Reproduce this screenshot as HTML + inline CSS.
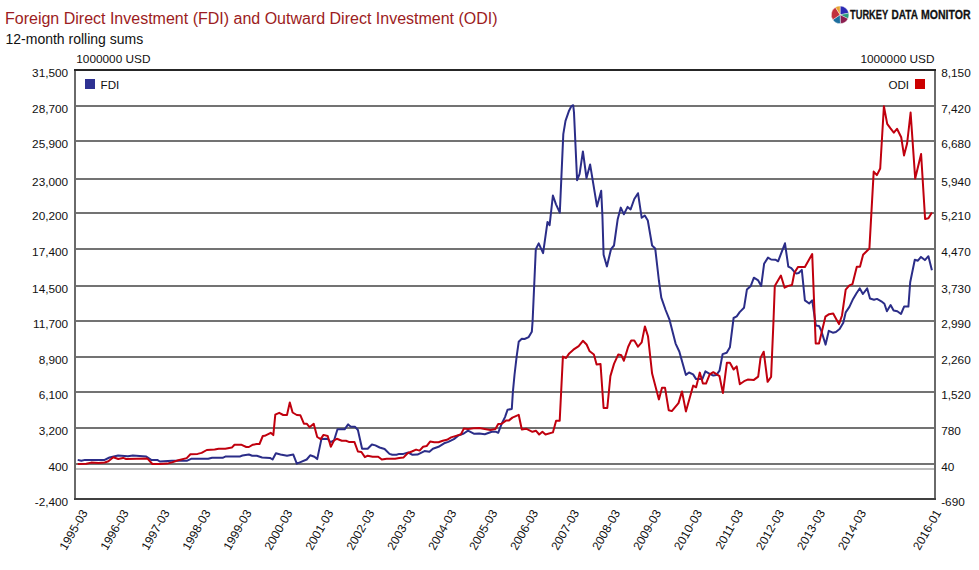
<!DOCTYPE html>
<html><head><meta charset="utf-8"><title>FDI and ODI</title>
<style>html,body{margin:0;padding:0;background:#fff;width:979px;height:570px;overflow:hidden;position:relative}</style>
</head><body>
<svg width="979" height="570" viewBox="0 0 979 570" style="position:absolute;left:0;top:0">
<line x1="75" y1="106.00" x2="935" y2="106.00" stroke="#737373" stroke-width="2"/>
<line x1="75" y1="141.00" x2="935" y2="141.00" stroke="#737373" stroke-width="2"/>
<line x1="75" y1="179.00" x2="935" y2="179.00" stroke="#737373" stroke-width="2"/>
<line x1="75" y1="213.00" x2="935" y2="213.00" stroke="#737373" stroke-width="2"/>
<line x1="75" y1="249.00" x2="935" y2="249.00" stroke="#737373" stroke-width="2"/>
<line x1="75" y1="286.00" x2="935" y2="286.00" stroke="#737373" stroke-width="2"/>
<line x1="75" y1="321.00" x2="935" y2="321.00" stroke="#737373" stroke-width="2"/>
<line x1="75" y1="357.00" x2="935" y2="357.00" stroke="#737373" stroke-width="2"/>
<line x1="75" y1="392.00" x2="935" y2="392.00" stroke="#737373" stroke-width="2"/>
<line x1="75" y1="428.00" x2="935" y2="428.00" stroke="#737373" stroke-width="2"/>
<line x1="75" y1="464.00" x2="935" y2="464.00" stroke="#737373" stroke-width="2"/>
<line x1="76" y1="469.00" x2="934" y2="469.00" stroke="#bdbdbd" stroke-width="2"/>
<line x1="75" y1="70" x2="75" y2="499" stroke="#6a6a6a" stroke-width="2"/>
<line x1="935" y1="70" x2="935" y2="499" stroke="#6a6a6a" stroke-width="2"/>
<line x1="74" y1="70" x2="936" y2="70" stroke="#262626" stroke-width="2"/>
<line x1="74" y1="499" x2="936" y2="499" stroke="#404040" stroke-width="2"/>
<polyline points="77.7,459.9 81.4,460.8 85.0,459.9 104.6,459.9 109.5,457.5 118.1,455.6 127.9,456.2 132.8,455.6 146.3,456.6 151.2,459.9 157.3,459.9 159.8,461.5 172.0,460.8 186.7,460.8 191.1,458.8 208.2,458.8 212.1,457.8 222.6,457.8 225.3,456.6 239.7,456.6 242.4,455.5 248.9,454.5 252.2,455.8 256.8,455.8 262.1,457.5 270.0,457.9 272.6,459.5 275.9,453.3 280.5,454.5 285.8,455.5 287.0,455.7 293.3,454.6 296.8,463.7 301.1,461.9 306.7,459.5 310.2,455.3 314.4,456.7 317.2,459.1 321.4,439.1 327.7,438.8 330.5,442.2 334.0,440.5 337.5,429.3 344.6,429.3 348.1,424.4 350.9,426.8 355.1,426.8 357.9,430.0 362.1,448.7 367.7,448.7 371.9,444.5 375.4,445.4 379.6,447.5 384.6,449.0 389.5,453.9 392.3,454.8 396.5,454.8 399.2,453.9 403.4,453.9 408.3,452.5 412.5,454.8 417.5,454.6 424.5,451.1 429.4,451.8 432.9,448.7 438.5,446.8 444.1,443.3 448.3,441.9 453.9,439.1 458.2,435.6 463.8,433.5 468.0,430.7 474.3,433.8 479.2,433.5 484.8,434.2 491.8,431.8 496.1,431.8 498.2,432.8 501.7,423.7 505.0,417.1 507.6,409.7 511.8,408.9 512.9,391.8 514.5,375.0 516.6,356.9 518.7,341.8 521.8,338.7 524.5,339.0 528.7,337.1 531.8,331.8 532.6,321.3 535.8,249.3 538.7,243.4 543.1,253.1 547.5,221.9 549.6,225.2 552.9,195.5 556.0,204.3 559.8,212.7 563.3,134.1 565.5,120.8 568.8,111.3 571.4,106.1 573.2,105.2 574.0,112.7 577.1,180.2 579.6,173.8 582.9,151.4 586.5,178.0 590.1,164.4 597.0,206.4 601.2,190.7 602.4,215.5 603.6,254.7 606.9,266.4 611.0,249.2 614.0,245.5 617.7,219.2 620.8,207.6 623.9,214.3 627.6,206.9 630.6,209.4 634.3,199.0 638.0,193.2 641.7,217.8 644.8,215.5 647.8,220.5 652.1,245.5 655.2,248.4 658.9,280.5 661.3,297.7 665.6,310.0 669.5,319.7 675.6,343.6 679.3,351.5 685.9,374.9 689.0,372.5 693.1,374.4 696.1,379.1 702.3,379.1 705.4,371.3 709.7,373.8 713.3,375.6 716.4,375.0 719.5,370.7 722.6,354.1 726.7,352.8 729.9,347.3 733.6,318.0 736.7,316.4 739.7,312.1 744.0,307.8 746.9,289.6 750.8,285.9 753.9,277.7 758.2,280.4 761.2,285.9 764.1,263.8 768.0,257.6 771.1,259.5 775.4,259.7 778.1,261.3 785.0,243.3 788.3,266.6 791.3,268.1 793.8,271.2 796.3,273.6 798.7,273.0 801.8,269.9 804.9,300.4 809.2,303.5 812.2,300.4 815.9,325.6 819.0,325.9 821.1,330.2 825.6,344.6 828.8,330.8 832.8,332.7 835.9,332.0 839.6,329.0 843.3,322.8 845.7,312.4 849.4,306.9 853.1,298.9 856.8,292.7 859.8,288.4 862.9,294.0 867.2,288.4 870.0,298.5 874.0,299.7 877.0,298.9 881.3,301.3 884.4,303.8 886.9,311.2 890.6,305.0 893.6,310.5 897.3,311.2 901.0,314.0 904.1,306.6 908.4,306.6 910.2,282.3 914.8,259.7 917.9,260.7 921.0,256.9 924.9,260.1 928.4,256.2 931.9,270.2" fill="none" stroke="#2b2d88" stroke-width="2" stroke-linejoin="round"/>
<polyline points="77.7,464.0 86.3,463.8 91.2,462.6 98.5,463.1 104.7,462.5 108.4,461.2 113.3,457.2 118.2,459.0 123.1,457.9 126.1,459.0 147.5,458.6 152.4,464.0 159.8,464.0 167.1,463.6 172.0,462.4 178.2,460.2 186.7,458.1 190.4,454.2 197.6,453.9 201.6,452.9 206.8,450.0 214.7,449.6 218.7,448.7 225.3,448.7 229.2,447.9 231.8,447.6 234.5,444.7 241.1,444.7 246.3,447.0 248.9,447.0 252.9,444.7 256.8,444.0 259.5,444.0 262.8,436.0 264.7,435.8 270.7,432.8 273.3,435.1 275.3,414.7 279.2,412.8 283.2,415.0 287.0,415.0 289.8,402.4 292.6,412.5 296.8,415.0 300.4,415.3 303.9,423.7 306.7,423.7 309.5,427.2 313.7,423.7 317.2,437.0 320.7,439.1 323.5,434.9 327.7,436.0 330.8,446.8 334.0,440.5 336.8,438.8 341.8,440.8 346.0,440.8 348.8,441.9 354.4,441.9 357.9,451.5 361.4,452.0 364.9,457.1 367.7,455.7 372.6,456.7 378.2,456.7 381.8,459.5 386.7,458.8 395.1,458.8 399.2,458.1 403.4,457.6 407.6,453.2 411.8,451.5 416.1,449.6 419.6,450.6 423.1,446.8 426.6,446.1 430.1,441.6 434.3,442.2 438.5,442.2 442.7,440.8 446.9,439.8 451.1,437.4 456.8,435.6 461.0,434.2 463.8,428.6 468.0,429.0 473.6,428.2 479.2,427.9 484.8,429.0 490.4,430.0 495.4,429.0 498.2,424.0 501.7,423.7 505.9,420.6 508.7,420.6 512.4,417.6 518.7,414.8 521.8,429.5 526.1,428.7 532.4,431.8 536.1,430.8 539.2,434.5 542.4,431.8 545.5,434.5 552.9,432.4 556.1,420.8 559.7,420.8 562.9,356.6 566.1,358.0 569.2,353.4 573.4,349.7 578.7,346.1 582.9,340.8 586.6,344.5 589.7,351.3 593.9,354.5 596.6,364.5 600.5,363.9 603.6,408.0 607.3,408.0 610.4,376.1 614.0,363.9 618.3,354.4 621.4,355.3 623.9,360.8 628.2,346.7 631.2,340.5 634.3,340.5 638.0,346.7 641.7,342.4 644.9,326.4 648.0,336.2 652.1,373.6 658.9,399.4 662.0,387.7 665.0,387.7 668.7,410.2 671.8,411.1 678.5,403.1 682.0,391.4 685.9,411.4 693.2,385.6 696.1,387.3 699.8,372.6 702.9,383.6 706.0,383.6 709.7,374.4 713.3,372.2 719.5,376.2 722.9,393.1 726.9,362.7 729.9,362.7 733.6,369.5 736.7,366.4 739.8,384.2 744.1,381.2 747.7,379.6 753.9,379.9 758.2,376.6 760.6,357.6 763.7,351.7 767.6,381.8 771.1,376.9 773.5,320.7 774.8,285.9 780.9,275.5 784.6,287.7 788.3,285.9 792.0,285.0 794.4,272.8 798.1,266.9 804.9,266.9 812.2,254.0 815.7,343.4 819.0,343.4 825.4,316.7 829.1,314.2 833.2,313.6 835.9,318.5 839.0,324.1 842.0,315.5 845.7,289.7 849.4,285.4 852.5,284.1 856.8,266.7 860.0,266.7 863.1,254.8 869.4,248.5 873.7,171.6 876.9,175.1 880.2,168.5 883.9,106.3 887.2,123.9 890.3,128.1 893.8,132.6 897.0,128.8 901.2,137.2 904.0,155.4 907.1,143.5 910.6,112.6 915.2,178.6 921.1,154.0 925.1,219.0 928.4,218.3 931.9,212.6" fill="none" stroke="#c0000e" stroke-width="2" stroke-linejoin="round"/>
<text x="68.2" y="77.0" font-family="Liberation Sans, sans-serif" font-size="11.8" text-anchor="end" fill="#111">31,500</text>
<text x="68.2" y="113.0" font-family="Liberation Sans, sans-serif" font-size="11.8" text-anchor="end" fill="#111">28,700</text>
<text x="68.2" y="148.0" font-family="Liberation Sans, sans-serif" font-size="11.8" text-anchor="end" fill="#111">25,900</text>
<text x="68.2" y="186.0" font-family="Liberation Sans, sans-serif" font-size="11.8" text-anchor="end" fill="#111">23,000</text>
<text x="68.2" y="220.0" font-family="Liberation Sans, sans-serif" font-size="11.8" text-anchor="end" fill="#111">20,200</text>
<text x="68.2" y="256.0" font-family="Liberation Sans, sans-serif" font-size="11.8" text-anchor="end" fill="#111">17,400</text>
<text x="68.2" y="293.0" font-family="Liberation Sans, sans-serif" font-size="11.8" text-anchor="end" fill="#111">14,500</text>
<text x="68.2" y="328.0" font-family="Liberation Sans, sans-serif" font-size="11.8" text-anchor="end" fill="#111">11,700</text>
<text x="68.2" y="364.0" font-family="Liberation Sans, sans-serif" font-size="11.8" text-anchor="end" fill="#111">8,900</text>
<text x="68.2" y="399.0" font-family="Liberation Sans, sans-serif" font-size="11.8" text-anchor="end" fill="#111">6,100</text>
<text x="68.2" y="435.0" font-family="Liberation Sans, sans-serif" font-size="11.8" text-anchor="end" fill="#111">3,200</text>
<text x="68.2" y="471.0" font-family="Liberation Sans, sans-serif" font-size="11.8" text-anchor="end" fill="#111">400</text>
<text x="68.2" y="506.0" font-family="Liberation Sans, sans-serif" font-size="11.8" text-anchor="end" fill="#111">-2,400</text>
<text x="941.2" y="77.0" font-family="Liberation Sans, sans-serif" font-size="11.8" fill="#111">8,150</text>
<text x="941.2" y="113.0" font-family="Liberation Sans, sans-serif" font-size="11.8" fill="#111">7,420</text>
<text x="941.2" y="148.0" font-family="Liberation Sans, sans-serif" font-size="11.8" fill="#111">6,680</text>
<text x="941.2" y="186.0" font-family="Liberation Sans, sans-serif" font-size="11.8" fill="#111">5,940</text>
<text x="941.2" y="220.0" font-family="Liberation Sans, sans-serif" font-size="11.8" fill="#111">5,210</text>
<text x="941.2" y="256.0" font-family="Liberation Sans, sans-serif" font-size="11.8" fill="#111">4,470</text>
<text x="941.2" y="293.0" font-family="Liberation Sans, sans-serif" font-size="11.8" fill="#111">3,730</text>
<text x="941.2" y="328.0" font-family="Liberation Sans, sans-serif" font-size="11.8" fill="#111">2,990</text>
<text x="941.2" y="364.0" font-family="Liberation Sans, sans-serif" font-size="11.8" fill="#111">2,260</text>
<text x="941.2" y="399.0" font-family="Liberation Sans, sans-serif" font-size="11.8" fill="#111">1,520</text>
<text x="941.2" y="435.0" font-family="Liberation Sans, sans-serif" font-size="11.8" fill="#111">780</text>
<text x="941.2" y="471.0" font-family="Liberation Sans, sans-serif" font-size="11.8" fill="#111">40</text>
<text x="941.2" y="506.0" font-family="Liberation Sans, sans-serif" font-size="11.8" fill="#111">-690</text>
<text x="76.3" y="62.8" font-family="Liberation Sans, sans-serif" font-size="11.8" fill="#111">1000000 USD</text>
<text x="934.5" y="62.8" font-family="Liberation Sans, sans-serif" font-size="11.8" text-anchor="end" fill="#111">1000000 USD</text>
<rect x="85" y="79" width="10" height="10" fill="#2e3192"/>
<text x="100.6" y="88.5" font-family="Liberation Sans, sans-serif" font-size="11.6" fill="#111">FDI</text>
<rect x="915" y="79" width="10" height="10" fill="#cc0000"/>
<text x="909" y="88.5" font-family="Liberation Sans, sans-serif" font-size="11.6" text-anchor="end" fill="#111">ODI</text>
<text transform="translate(88.1,512.8) rotate(-60)" font-family="Liberation Sans, sans-serif" font-size="12" text-anchor="end" fill="#111">1995-03</text>
<text transform="translate(129.1,512.8) rotate(-60)" font-family="Liberation Sans, sans-serif" font-size="12" text-anchor="end" fill="#111">1996-03</text>
<text transform="translate(170.0,512.8) rotate(-60)" font-family="Liberation Sans, sans-serif" font-size="12" text-anchor="end" fill="#111">1997-03</text>
<text transform="translate(211.0,512.8) rotate(-60)" font-family="Liberation Sans, sans-serif" font-size="12" text-anchor="end" fill="#111">1998-03</text>
<text transform="translate(252.0,512.8) rotate(-60)" font-family="Liberation Sans, sans-serif" font-size="12" text-anchor="end" fill="#111">1999-03</text>
<text transform="translate(292.9,512.8) rotate(-60)" font-family="Liberation Sans, sans-serif" font-size="12" text-anchor="end" fill="#111">2000-03</text>
<text transform="translate(333.9,512.8) rotate(-60)" font-family="Liberation Sans, sans-serif" font-size="12" text-anchor="end" fill="#111">2001-03</text>
<text transform="translate(374.9,512.8) rotate(-60)" font-family="Liberation Sans, sans-serif" font-size="12" text-anchor="end" fill="#111">2002-03</text>
<text transform="translate(415.8,512.8) rotate(-60)" font-family="Liberation Sans, sans-serif" font-size="12" text-anchor="end" fill="#111">2003-03</text>
<text transform="translate(456.8,512.8) rotate(-60)" font-family="Liberation Sans, sans-serif" font-size="12" text-anchor="end" fill="#111">2004-03</text>
<text transform="translate(497.8,512.8) rotate(-60)" font-family="Liberation Sans, sans-serif" font-size="12" text-anchor="end" fill="#111">2005-03</text>
<text transform="translate(538.7,512.8) rotate(-60)" font-family="Liberation Sans, sans-serif" font-size="12" text-anchor="end" fill="#111">2006-03</text>
<text transform="translate(579.7,512.8) rotate(-60)" font-family="Liberation Sans, sans-serif" font-size="12" text-anchor="end" fill="#111">2007-03</text>
<text transform="translate(620.7,512.8) rotate(-60)" font-family="Liberation Sans, sans-serif" font-size="12" text-anchor="end" fill="#111">2008-03</text>
<text transform="translate(661.7,512.8) rotate(-60)" font-family="Liberation Sans, sans-serif" font-size="12" text-anchor="end" fill="#111">2009-03</text>
<text transform="translate(702.6,512.8) rotate(-60)" font-family="Liberation Sans, sans-serif" font-size="12" text-anchor="end" fill="#111">2010-03</text>
<text transform="translate(743.6,512.8) rotate(-60)" font-family="Liberation Sans, sans-serif" font-size="12" text-anchor="end" fill="#111">2011-03</text>
<text transform="translate(784.6,512.8) rotate(-60)" font-family="Liberation Sans, sans-serif" font-size="12" text-anchor="end" fill="#111">2012-03</text>
<text transform="translate(825.5,512.8) rotate(-60)" font-family="Liberation Sans, sans-serif" font-size="12" text-anchor="end" fill="#111">2013-03</text>
<text transform="translate(866.5,512.8) rotate(-60)" font-family="Liberation Sans, sans-serif" font-size="12" text-anchor="end" fill="#111">2014-03</text>
<text transform="translate(941.6,512.8) rotate(-60)" font-family="Liberation Sans, sans-serif" font-size="12" text-anchor="end" fill="#111">2016-01</text>
<text x="5" y="23.8" font-family="Liberation Sans, sans-serif" font-size="16" fill="#9c1c22">Foreign Direct Investment (FDI) and Outward Direct Investment (ODI)</text>
<text x="5.5" y="44.2" font-family="Liberation Sans, sans-serif" font-size="14" fill="#111">12-month rolling sums</text>
<path d="M840.1,14.8 L840.10,6.00 A8.8,8.8 0 0 1 848.74,13.12 Z" fill="#2b2bb5" stroke="#ffffff" stroke-width="0.4"/>
<path d="M840.1,14.8 L848.74,13.12 A8.8,8.8 0 0 1 848.01,18.66 Z" fill="#2a9d7e" stroke="#ffffff" stroke-width="0.4"/>
<path d="M840.1,14.8 L848.01,18.66 A8.8,8.8 0 0 1 840.41,23.59 Z" fill="#8c1f4f" stroke="#ffffff" stroke-width="0.4"/>
<path d="M840.1,14.8 L840.41,23.59 A8.8,8.8 0 0 1 832.80,19.72 Z" fill="#1d6e9e" stroke="#ffffff" stroke-width="0.4"/>
<path d="M840.1,14.8 L832.80,19.72 A8.8,8.8 0 0 1 835.44,7.34 Z" fill="#c1303c" stroke="#ffffff" stroke-width="0.4"/>
<path d="M840.1,14.8 L835.44,7.34 A8.8,8.8 0 0 1 840.10,6.00 Z" fill="#e9a431" stroke="#ffffff" stroke-width="0.4"/>
<text x="850.0" y="19.2" font-family="Liberation Sans, sans-serif" font-weight="bold" font-size="13.4" textLength="38.2" lengthAdjust="spacingAndGlyphs" fill="#111" stroke="#111" stroke-width="0.3">TURKEY</text>
<text x="891.6" y="19.2" font-family="Liberation Sans, sans-serif" font-weight="bold" font-size="13.4" textLength="26.4" lengthAdjust="spacingAndGlyphs" fill="#111" stroke="#111" stroke-width="0.3">DATA</text>
<text x="921.0" y="19.2" font-family="Liberation Sans, sans-serif" font-weight="bold" font-size="13.4" textLength="49.6" lengthAdjust="spacingAndGlyphs" fill="#111" stroke="#111" stroke-width="0.3">MONITOR</text>
</svg>
</body></html>
